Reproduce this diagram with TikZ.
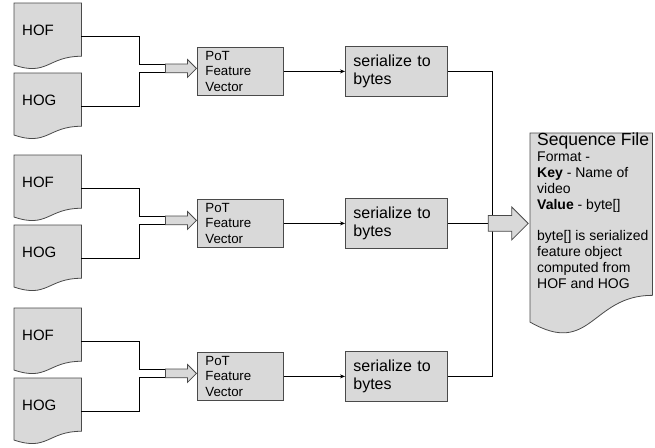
\documentclass[tikz,border=0pt]{standalone}
\usepackage{fontspec}
\setmainfont{Liberation Sans}
\usetikzlibrary{calc,arrows.meta,shapes.arrows,backgrounds}
\definecolor{shapefill}{HTML}{D9D9D9}
\definecolor{shapeline}{HTML}{4A4A4A}
\tikzset{doc/.style={anchor=north west,minimum width=67pt,minimum height=66pt,inner xsep=8pt,inner ysep=0pt,text width=51pt,align=left,text height=10pt,text depth=12pt,font=\fontsize{15}{17}\selectfont},
	proc/.style={draw=shapeline,fill=shapefill,line width=0.8pt,anchor=north west,inner xsep=8pt,inner ysep=0pt,align=left},
	pot/.style={proc,minimum width=86pt,minimum height=48pt,text width=70pt,font=\fontsize{13.3}{15.5}\selectfont},
	ser/.style={proc,minimum width=102pt,minimum height=50pt,text width=86pt,font=\fontsize{16}{18.5}\selectfont},
	fat/.style={single arrow,draw=shapeline,fill=shapefill,line width=0.8pt,inner xsep=0pt},
	link/.style={draw=black,line width=0.8pt}}

\begin{document}
\begin{tikzpicture}[x=1pt,y=-1pt]
	\useasboundingbox (0,0) rectangle (655,447);
	\foreach \g/\off in {A/0,B/152,C/305}{
		\node[doc] (hof\g) at (14,3+\off) {HOF};
		\node[doc] (hog\g) at (14,73+\off) {HOG};
		\node[pot] (pot\g) at (197,47+\off) {PoT\\Feature\\Vector};
		\node[ser] (ser\g) at (345,46+\off) {serialize to\\bytes};
		\node[fat,minimum height=31pt,inner ysep=4pt,single arrow head extend=4.5pt,anchor=tip] (arr\g) at ($(pot\g.west)+(0,-3)$) {};
		\draw[link] (hof\g.east) -- ++(58,0) |- ($(arr\g.tail)+(0,-4)$);
		\draw[link] (hog\g.east) -- ++(58,0) |- ($(arr\g.tail)+(0,4)$);
		\draw[link,-{Stealth[length=5pt,width=4pt]}] (pot\g.east) -- (ser\g.west);
	}
	\node[fat,minimum height=40pt,inner ysep=7.5pt,single arrow head extend=8.5pt,anchor=tail] (bigarrow) at ([xshift=40pt]serB.east) {};
	\node[anchor=north west,inner sep=0pt] (seqfile) at (530,133) {\begin{minipage}[t][202pt][t]{122pt}\raggedright\leftskip=7pt
		{\fontsize{17.5}{18}\selectfont Sequence File}\\
		\fontsize{14}{15.8}\selectfont Format -\\
		\textbf{Key} - Name of\\
		video\\
		\textbf{Value} - byte[]\\[15.8pt]
		byte[] is serialized\\
		feature object\\
		computed from\\
		HOF and HOG
	\end{minipage}};
	\coordinate (merge) at ([xshift=5pt]bigarrow.tail);
	\begin{scope}[on background layer]
		\foreach \d in {hofA,hogA,hofB,hogB,hofC,hogC,seqfile}
			\filldraw[fill=shapefill,draw=shapeline,line width=0.8pt] (\d.north west) -- (\d.north east)
				-- ($(\d.north east)!0.802!(\d.south east)$)
				.. controls ($(\d.north)!0.802!(\d.south)$) and ($(\d.north)!1.1075!(\d.south)$)
				.. ($(\d.north west)!0.934!(\d.south west)$) -- cycle;
		\draw[link] (serA.east) -| (merge);
		\draw[link] (serC.east) -| (merge);
		\draw[link] (serB.east) -- (bigarrow.tail);
	\end{scope}
\end{tikzpicture}
\end{document}
